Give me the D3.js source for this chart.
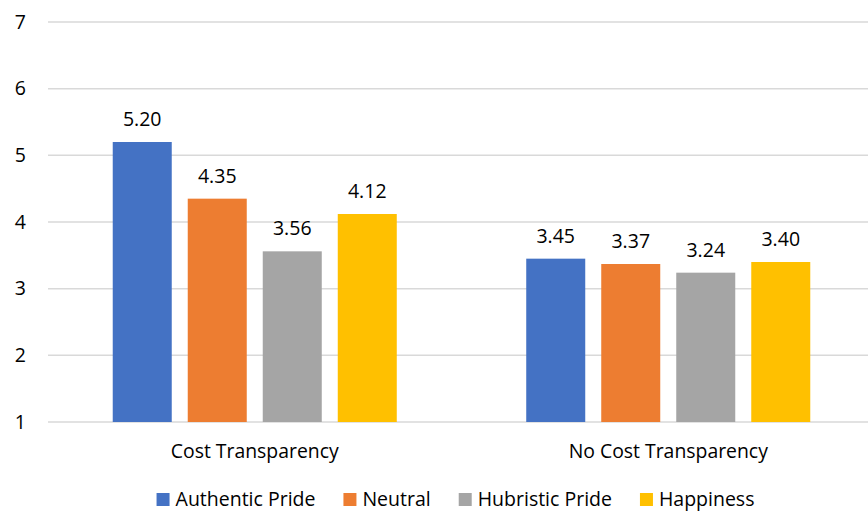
<!DOCTYPE html>
<html>
<head>
<meta charset="utf-8">
<script src="https://cdn.jsdelivr.net/npm/d3@7"></script>
<style>
  html, body { margin: 0; padding: 0; background: #fff; }
  svg { display: block; }
  text { font-family: "Open Sans", sans-serif; fill: #000; }
</style>
</head>
<body>
<svg id="chart" width="868" height="513"></svg>
<script>
const categories = ["Cost Transparency", "No Cost Transparency"];
const series = ["Authentic Pride", "Neutral", "Hubristic Pride", "Happiness"];
const costTransparency = [5.20, 4.35, 3.56, 4.12];
const noCostTransparency = [3.45, 3.37, 3.24, 3.40];
const seriesColors = ["#4472C4", "#ED7D31", "#A5A5A5", "#FFC000"];
const yTicks = [1, 2, 3, 4, 5, 6, 7];

const values = [costTransparency, noCostTransparency];
const data = categories.map((c, i) => ({
  category: c,
  values: series.map((s, j) => ({ series: s, value: values[i][j] }))
}));

const svg = d3.select("#chart");
const W = 868, H = 513;
const plot = { left: 48, right: 875, top: 22, bottom: 422 };

const y = d3.scaleLinear().domain([1, 7]).range([plot.bottom, plot.top]);
const x0 = d3.scaleBand().domain(categories).range([plot.left, plot.right]).padding(0);
const x1 = d3.scaleBand().domain(series).range([0, x0.bandwidth()])
  .paddingInner(0.2133).paddingOuter(0.863);
const color = d3.scaleOrdinal().domain(series).range(seriesColors);

// gridlines
svg.append("g").selectAll("line").data(yTicks).join("line")
  .attr("x1", plot.left).attr("x2", W)
  .attr("y1", d => y(d)).attr("y2", d => y(d))
  .attr("stroke", "#d9d9d9").attr("stroke-width", 1.5);

// y tick labels
const yAxis = d3.axisLeft(y).tickValues(yTicks).tickSize(0).tickPadding(0).tickFormat(d3.format("d"));
const gy = svg.append("g").attr("transform", `translate(26,0)`).call(yAxis);
gy.select(".domain").remove();
gy.selectAll("text").attr("font-size", 19.5).attr("font-family", "Open Sans, sans-serif").attr("fill", "#000");

// bars
const groups = svg.append("g").selectAll("g").data(data).join("g")
  .attr("transform", d => `translate(${x0(d.category)},0)`);

groups.selectAll("rect").data(d => d.values).join("rect")
  .attr("x", d => x1(d.series))
  .attr("width", x1.bandwidth())
  .attr("y", d => y(d.value))
  .attr("height", d => y(1) - y(d.value))
  .attr("fill", d => color(d.series));

groups.selectAll("text.val").data(d => d.values).join("text")
  .attr("class", "val")
  .attr("x", d => x1(d.series) + x1.bandwidth() / 2)
  .attr("y", d => y(d.value) - 16)
  .attr("text-anchor", "middle")
  .attr("font-size", 19.5)
  .text(d => d3.format(".2f")(d.value));

// category labels
const xAxis = d3.axisBottom(x0).tickSize(0).tickPadding(0);
const gx = svg.append("g").attr("transform", `translate(0,${plot.bottom})`).call(xAxis);
gx.select(".domain").remove();
gx.selectAll("text").attr("font-size", 19.4).attr("font-family", "Open Sans, sans-serif")
  .attr("fill", "#000").attr("dy", null).attr("y", 36);

// legend
const legend = svg.append("g");
const items = legend.selectAll("g").data(series).join("g");
items.append("rect").attr("width", 13).attr("height", 13).attr("y", -6)
  .attr("fill", d => color(d));
items.append("text").attr("x", 19).attr("dy", "0.35em").attr("font-size", 19.5).text(d => d);
const gap = 28;
let xpos = 0;
items.each(function() {
  const g = d3.select(this);
  const tw = g.select("text").node().getComputedTextLength();
  g.attr("transform", `translate(${xpos},0)`);
  xpos += 19 + tw + gap;
});
const total = xpos - gap;
legend.attr("transform", `translate(${455.5 - total / 2},499)`);
</script>
</body>
</html>
